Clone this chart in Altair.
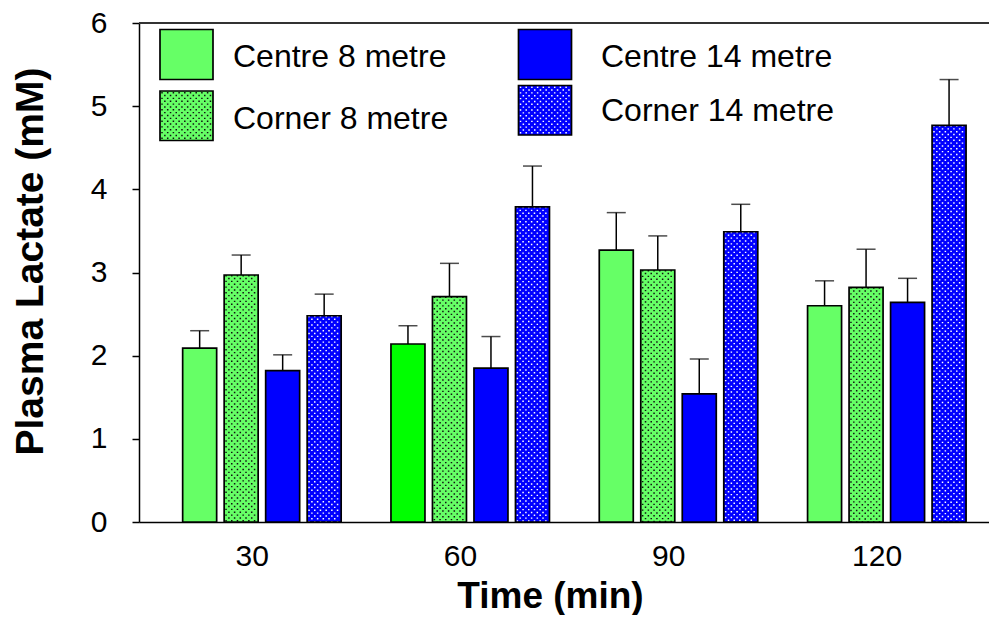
import altair as alt
import pandas as pd

# ---------------- data ----------------
times = ["30", "60", "90", "120"]
series = ["Centre 8 metre", "Corner 8 metre", "Centre 14 metre", "Corner 14 metre"]

centre8 = [2.09, 2.14, 3.27, 2.60]
corner8 = [2.97, 2.71, 3.03, 2.82]
centre14 = [1.82, 1.85, 1.54, 2.64]
corner14 = [2.48, 3.79, 3.49, 4.77]

centre8_err = [0.21, 0.22, 0.45, 0.30]
corner8_err = [0.24, 0.40, 0.41, 0.46]
centre14_err = [0.19, 0.38, 0.42, 0.29]
corner14_err = [0.26, 0.49, 0.33, 0.55]

# ---------------- styles ----------------
GREEN = "#66FF66"
GREEN_BRIGHT = "#00FF00"   # the 60-min Centre 8 bar is drawn in pure green
BLUE = "#0000FF"
series_fill = {"Centre 8 metre": GREEN, "Corner 8 metre": GREEN,
               "Centre 14 metre": BLUE, "Corner 14 metre": BLUE}
dotted = {"Corner 8 metre": "#111111", "Corner 14 metre": "#FFFFFF"}
FONT = "Liberation Sans"

# ---------------- layout ----------------
W, H = 850, 499
PAD_L, PAD_T, PAD_R, PAD_B = 131, 15, 0, 93
X_PO, X_ALIGN = 0.0403, 0.536           # outer padding of the time bands
OFF_PI, OFF_PO, OFF_ALIGN = 0.1807, 0.60, 0.696   # bars inside a band
band_w = W / (4 + 2 * X_PO)

values = [centre8, corner8, centre14, corner14]
errs = [centre8_err, corner8_err, centre14_err, corner14_err]

rows = []
for si, s in enumerate(series):
    for ti, t in enumerate(times):
        fill = series_fill[s]
        if s == "Centre 8 metre" and t == "60":
            fill = GREEN_BRIGHT
        rows.append({"Time": t, "Series": s, "value": values[si][ti],
                     "upper": values[si][ti] + errs[si][ti], "fill": fill})
df = pd.DataFrame(rows)

# dot texture columns (band units) for the dotted series
n = 4
step2 = band_w / (n - OFF_PI + 2 * OFF_PO)
start2 = (band_w - step2 * (n - OFF_PI)) * OFF_ALIGN
bar_w = step2 * (1 - OFF_PI)
DOT_STEP = 2.85
dot_rows = []
for si, s in enumerate(series):
    if s not in dotted:
        continue
    b0 = start2 + si * step2
    for ti, t in enumerate(times):
        k = 0
        off = b0 + 1.9
        while off < b0 + bar_w - 1.4:
            dot_rows.append({"Time": t, "off": off, "value": values[si][ti],
                             "parity": k % 2, "dc": dotted[s]})
            k += 1
            off += DOT_STEP
dots = pd.DataFrame(dot_rows)

x_enc = alt.X("Time:N", sort=times,
              scale=alt.Scale(paddingInner=0, paddingOuter=X_PO, align=X_ALIGN),
              axis=alt.Axis(title="Time (min)", labelAngle=0, ticks=False, tickSize=0,
                            labelFontSize=30, labelPadding=43, labelBaseline="alphabetic",
                            labelFont=FONT, labelColor="black",
                            domainColor="black", domainWidth=1.5,
                            titleFont=FONT, titleFontSize=37, titleFontWeight="bold",
                            titleX=411, titleY=85, titleBaseline="alphabetic",
                            titleAlign="center", titleColor="black"))
y_enc = alt.Y("value:Q", scale=alt.Scale(domain=[0, 6], nice=False, zero=True),
              axis=alt.Axis(title="Plasma Lactate (mM)", values=[0, 1, 2, 3, 4, 5, 6],
                            format="d",
                            grid=False, tickSize=7, tickWidth=1.5, tickColor="black",
                            domainColor="black", domainWidth=1.5,
                            labelFontSize=30, labelPadding=25, labelFont=FONT,
                            labelColor="black",
                            titleFont=FONT, titleFontSize=39, titleFontWeight="bold",
                            titleX=-97, titleY=238, titleAngle=-90,
                            titleBaseline="alphabetic", titleAlign="center",
                            titleColor="black"))
xoff_band = alt.XOffset("Series:N", sort=series,
                        scale=alt.Scale(paddingInner=OFF_PI, paddingOuter=OFF_PO,
                                        align=OFF_ALIGN))

base = alt.Chart(df)

bars_fill = base.mark_bar(strokeWidth=0).encode(
    x=x_enc, xOffset=xoff_band, y=y_enc,
    fill=alt.Fill("fill:N", scale=None))

dot_layers = []
for p in (0, 1):
    dot_layers.append(
        alt.Chart(dots).transform_filter(alt.datum.parity == p)
        .mark_rule(strokeWidth=1.5, strokeDash=[1.4, 4.3],
                   strokeDashOffset=0 if p == 0 else 2.85, strokeCap="butt")
        .encode(x=alt.X("Time:N", sort=times),
                xOffset=alt.XOffset("off:Q", scale=alt.Scale(domain=[0, band_w],
                                                             range=[0, band_w])),
                y=alt.Y("value:Q"), y2=alt.datum(0),
                stroke=alt.Stroke("dc:N", scale=None)))

bars_outline = base.mark_bar(fillOpacity=0, stroke="black", strokeWidth=1.7).encode(
    x=alt.X("Time:N", sort=times), xOffset=xoff_band, y="value:Q")

err_line = base.mark_rule(color="black", strokeWidth=1.5).encode(
    x=alt.X("Time:N", sort=times), xOffset=xoff_band,
    y="value:Q", y2="upper:Q")
err_cap = base.mark_tick(color="black", thickness=1.5, size=19,
                         orient="horizontal").encode(
    x=alt.X("Time:N", sort=times), xOffset=xoff_band, y="upper:Q")

top_line = alt.Chart(pd.DataFrame({"v": [6]})).mark_rule(
    color="#333333", strokeWidth=2).encode(y="v:Q")

# ---------------- custom legend (pixel coordinates) ----------------
leg = pd.DataFrame({
    "label": series,
    "x1": [21, 21, 379.5, 379.5], "x2": [74, 74, 432.5, 432.5],
    "y1": [6.5, 68, 6.5, 62.5], "y2": [56.5, 117.5, 56.5, 112],
    "tx": [94, 94, 462, 462], "ty": [34, 96, 34, 88],
    "fill": [series_fill[s] for s in series],
})
leg_dot_rows = []
for _, r in leg.iterrows():
    if r["label"] not in dotted:
        continue
    k = 0
    px = r["x1"] + 2.0
    while px < r["x2"] - 1.4:
        leg_dot_rows.append({"px": px, "py1": r["y1"] + 1, "py2": r["y2"] - 1,
                             "parity": k % 2, "dc": dotted[r["label"]]})
        k += 1
        px += DOT_STEP
leg_dots = pd.DataFrame(leg_dot_rows)

leg_fill = alt.Chart(leg).mark_rect(strokeWidth=0).encode(
    x=alt.X("x1:Q", scale=None, axis=None), x2="x2:Q",
    y=alt.Y("y1:Q", scale=None, axis=None), y2="y2:Q",
    fill=alt.Fill("fill:N", scale=None))
leg_dot_layers = []
for p in (0, 1):
    leg_dot_layers.append(
        alt.Chart(leg_dots).transform_filter(alt.datum.parity == p)
        .mark_rule(strokeWidth=1.5, strokeDash=[1.4, 4.3],
                   strokeDashOffset=0 if p == 0 else 2.85, strokeCap="butt")
        .encode(x=alt.X("px:Q", scale=None, axis=None),
                y=alt.Y("py1:Q", scale=None, axis=None), y2="py2:Q",
                stroke=alt.Stroke("dc:N", scale=None)))
leg_outline = alt.Chart(leg).mark_rect(fillOpacity=0, stroke="black",
                                       strokeWidth=1.7).encode(
    x=alt.X("x1:Q", scale=None, axis=None), x2="x2:Q",
    y=alt.Y("y1:Q", scale=None, axis=None), y2="y2:Q")
leg_text = alt.Chart(leg).mark_text(align="left", baseline="middle", fontSize=32,
                                    font=FONT, color="black").encode(
    x=alt.X("tx:Q", scale=None, axis=None),
    y=alt.Y("ty:Q", scale=None, axis=None), text="label:N")

chart = alt.layer(
    bars_fill, *dot_layers, bars_outline, err_line, err_cap, top_line,
    leg_fill, *leg_dot_layers, leg_outline, leg_text
).resolve_scale(xOffset="independent").properties(
    width=W, height=H,
    autosize=alt.AutoSizeParams(type="none"),
    padding={"left": PAD_L, "top": PAD_T, "right": PAD_R, "bottom": PAD_B},
).configure_view(stroke=None).configure(font=FONT)

chart.save("out.html", embed_options={"renderer": "svg", "actions": False})
